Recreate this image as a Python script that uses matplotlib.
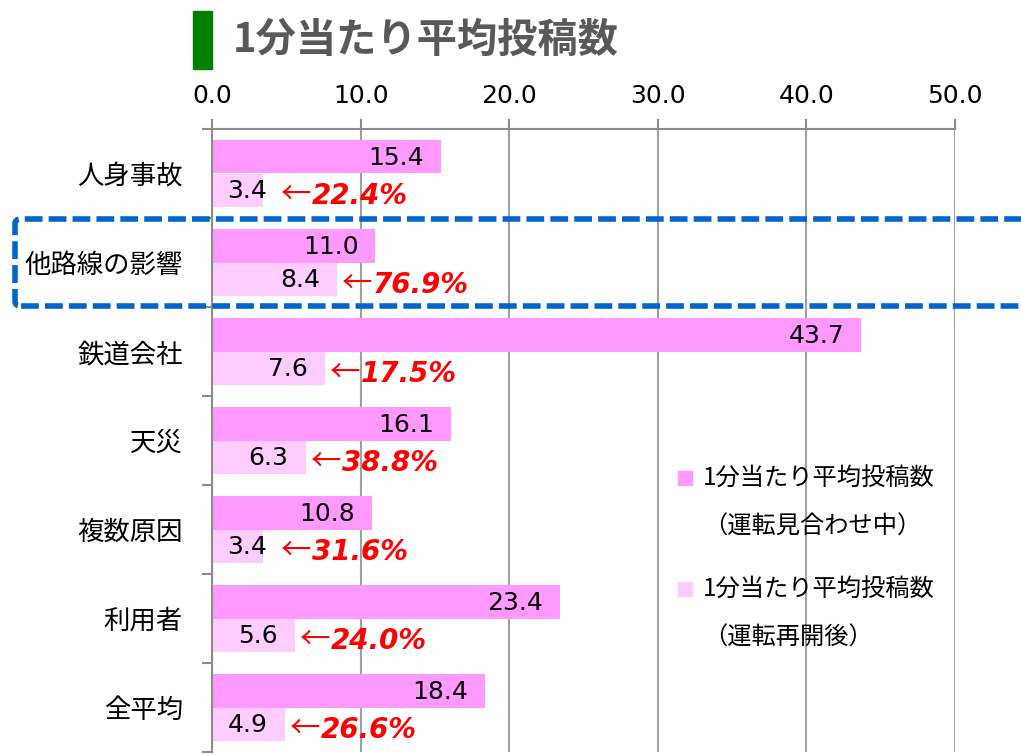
import matplotlib
matplotlib.use('Agg')
import matplotlib.pyplot as plt
from matplotlib.patches import Rectangle, FancyBboxPatch

plt.rcParams['font.family'] = ['Noto Sans CJK JP', 'DejaVu Sans']

categories = ['人身事故', '他路線の影響', '鉄道会社', '天災', '複数原因', '利用者', '全平均']
during = [15.4, 11.0, 43.7, 16.1, 10.8, 23.4, 18.4]   # 運転見合わせ中
after = [3.4, 8.4, 7.6, 6.3, 3.4, 5.6, 4.9]           # 運転再開後
ratios = ['22.4%', '76.9%', '17.5%', '38.8%', '31.6%', '24.0%', '26.6%']
xticks = [0, 10, 20, 30, 40, 50]

title = '1分当たり平均投稿数'
legend_labels = ['1分当たり平均投稿数\n（運転見合わせ中）', '1分当たり平均投稿数\n（運転再開後）']

dark = '#FF99FF'
light = '#FFCCFF'
gray = '#8c8c8c'

W, H = 1021, 755
fig = plt.figure(figsize=(W / 100, H / 100), dpi=100)
ax = fig.add_axes([212 / W, 1 - 752 / H, (955 - 212) / W, (752 - 129) / H])

ys = list(range(len(categories)))
bh = 0.38
ax.barh([y - bh / 2 for y in ys], during, height=bh, color=dark, zorder=2)
ax.barh([y + bh / 2 for y in ys], after, height=bh, color=light, zorder=2)

ax.set_xlim(0, 50)
ax.set_ylim(len(categories) - 0.5, -0.5)

# axes styling
ax.xaxis.tick_top()
ax.set_xticks(xticks)
ax.set_xticklabels(['{:.1f}'.format(v) for v in xticks], family='DejaVu Sans')
ax.tick_params(axis='x', top=True, length=7.2, width=1.5, color=gray, labelsize=18, pad=8)
ax.set_yticks(ys)
ax.set_yticklabels(categories)
ax.tick_params(axis='y', which='major', length=0, labelsize=19, pad=21)
ax.set_yticks([y - 0.5 for y in range(len(categories) + 1)], minor=True)
ax.tick_params(axis='y', which='minor', length=7.2, width=1.5, color=gray)
ax.grid(axis='x', color='#a0a0a0', lw=1.5, zorder=0)
ax.set_axisbelow(True)
for s in ['right', 'bottom']:
    ax.spines[s].set_visible(False)
for s in ['top', 'left']:
    ax.spines[s].set_color(gray)
    ax.spines[s].set_linewidth(1.5)

# value labels
def value_label(v, y):
    if v < 4.5:
        ax.annotate('{:.1f}'.format(v), xy=(0, y), xytext=(15, -1), textcoords='offset pixels',
                    ha='left', va='center', fontsize=18, family='DejaVu Sans', zorder=3)
    else:
        ax.annotate('{:.1f}'.format(v), xy=(v, y), xytext=(-17, -1), textcoords='offset pixels',
                    ha='right', va='center', fontsize=18, family='DejaVu Sans', zorder=3)

for y, d, a, r in zip(ys, during, after, ratios):
    value_label(d, y - bh / 2)
    value_label(a, y + bh / 2)
    off = 21 if a < 4.5 else 8
    ax.annotate('←', xy=(a, y + bh / 2), xytext=(off - 3, -5), textcoords='offset pixels',
                ha='left', va='center', fontsize=22, color='red', zorder=3)
    ax.annotate(r, xy=(a, y + bh / 2), xytext=(off + 28, -6), textcoords='offset pixels',
                ha='left', va='center', fontsize=20, color='red', weight='bold',
                style='italic', family='DejaVu Sans', zorder=3)

# title
fig.patches.append(Rectangle((193 / W, 1 - 69 / H), 19 / W, 58 / H, transform=fig.transFigure,
                             color='#008000'))
fig.text(233 / W, 1 - 40 / H, title, fontsize=29, weight='bold', color='#595959',
         ha='left', va='center')

# legend (drawn by hand)
for i, (lab, col) in enumerate(zip(legend_labels, [dark, light])):
    top = 471 + i * 111
    fig.patches.append(Rectangle((678 / W, 1 - (top + 14) / H), 14 / W, 14 / H,
                                 transform=fig.transFigure, color=col))
    l1, l2 = lab.split('\n')
    fig.text(703 / W, 1 - (top + 8) / H, l1, fontsize=17.5, ha='left', va='center')
    fig.text(703 / W, 1 - (top + 56) / H, l2, fontsize=17.5, ha='left', va='center')

# highlight box around 他路線の影響
fig.patches.append(FancyBboxPatch((15 / W, 1 - 306 / H), 1030 / W, 87 / H,
                                  boxstyle='round,pad=0,rounding_size=0.006',
                                  transform=fig.transFigure, fill=False,
                                  edgecolor='#0066CC', lw=4, linestyle=(0, (3.2, 1.1)),
                                  zorder=5))

fig.savefig('out.png', dpi=100)
